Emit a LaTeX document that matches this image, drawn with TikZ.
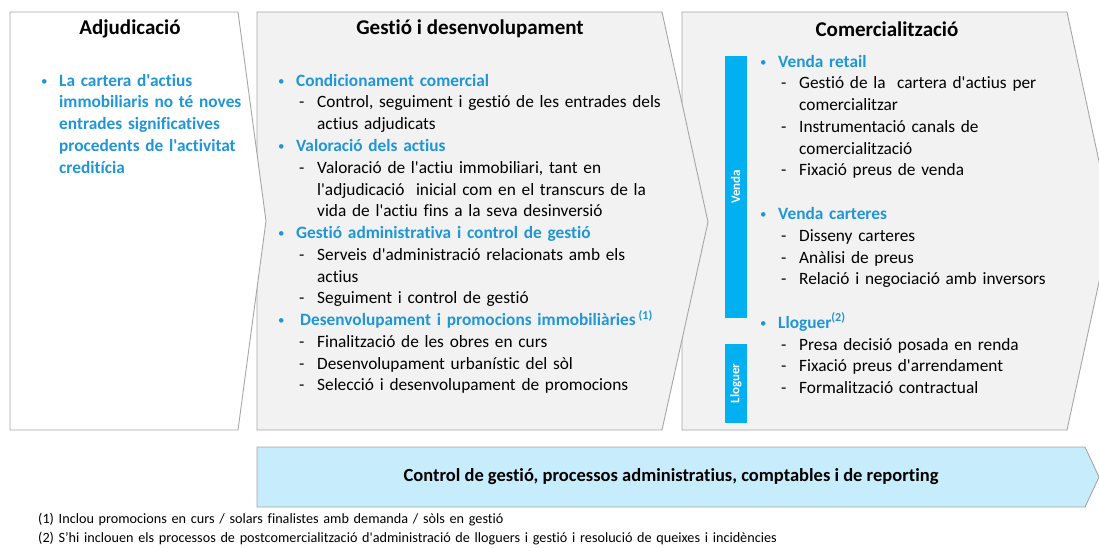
\documentclass[tikz,border=0pt]{standalone}
\usepackage{fontspec}
\setmainfont{Carlito}[Ligatures={NoCommon,TeXOff}]
\usetikzlibrary{positioning}
\definecolor{accblue}{RGB}{32,150,214}
\definecolor{barblue}{RGB}{0,176,240}
\definecolor{panelgray}{RGB}{242,242,242}
\definecolor{edgegray}{RGB}{166,166,166}
\definecolor{bannerblue}{RGB}{199,236,252}
\newcommand{\bul}[1]{\makebox[18pt][l]{\color{accblue}\raisebox{0.8pt}{\scalebox{0.75}{\textbullet}}}{\color{accblue}\bfseries #1}}
\newcommand{\bcont}[1]{\hspace*{18pt}{\color{accblue}\bfseries #1}}
\newcommand{\subi}[1]{\hspace*{21pt}\makebox[18pt][l]{-}#1}
\newcommand{\cont}[1]{\hspace*{39pt}#1}
\tikzset{
	node distance=21.75pt,
	panel/.style={draw=edgegray, line width=0.9pt},
	title/.style={inner sep=0pt, font=\fontsize{21}{24}\selectfont\bfseries},
	line/.style={inner sep=0pt, text height=12.5pt, text depth=4pt, align=left,
		font=\fontsize{17.3}{20}\selectfont},
	adjline/.style={line, text width=230pt},
	gesline/.style={line, text width=420pt},
	comline/.style={line, text width=320pt},
	bar/.style={fill=barblue, text=white, inner sep=0pt, rotate=90,
		minimum height=22pt, font=\fontsize{13}{14}\selectfont\bfseries},
	note/.style={inner sep=0pt, text width=900pt, align=left,
		font=\fontsize{14.2}{16}\selectfont}}

\begin{document}
\begin{tikzpicture}[x=1pt, y=1pt]
		\useasboundingbox (0,0) rectangle (1099,547);
		
		%panels
		\draw[panel, fill=panelgray] (682,535) -- (1067,535) -- (1112,325) -- (1067,117) -- (682,117) -- cycle;
		\draw[panel, fill=panelgray] (257,535) -- (662,535) -- (708,325) -- (662,117) -- (257,117) -- cycle;
		\draw[panel, fill=white] (10,535) -- (238,535) -- (266,326) -- (238,117) -- (10,117) -- cycle;
		\draw[panel, fill=bannerblue] (257,100) -- (1085,100) -- (1099,70) -- (1085,40) -- (257,40) -- cycle;
		
		\node[title] (adjt) at (130,518) {Adjudicació};
		\node[title] (gest) at (470,518) {Gestió i desenvolupament};
		\node[title] (comt) at (887,518) {Comercialització};
		
		%Adjudicacio
		\node[adjline, anchor=west] (a1) at (41,465) {\bul{La cartera d'actius}};
		\node[adjline, below of=a1] (a2) {\bcont{immobiliaris no té noves}};
		\node[adjline, below of=a2] (a3) {\bcont{entrades significatives}};
		\node[adjline, below of=a3] (a4) {\bcont{procedents de l'activitat}};
		\node[adjline, below of=a4] (a5) {\bcont{creditícia}};
		
		%Gestio
		\node[gesline, anchor=west] (g1) at (278,465) {\bul{Condicionament comercial}};
		\node[gesline, below of=g1] (g2) {\subi{Control, seguiment i gestió de les entrades dels}};
		\node[gesline, below of=g2] (g3) {\cont{actius adjudicats}};
		\node[gesline, below of=g3] (g4) {\bul{Valoració dels actius}};
		\node[gesline, below of=g4] (g5) {\subi{Valoració de l'actiu immobiliari, tant en}};
		\node[gesline, below of=g5] (g6) {\cont{l'adjudicació\ \ inicial com en el transcurs de la}};
		\node[gesline, below of=g6] (g7) {\cont{vida de l'actiu fins a la seva desinversió}};
		\node[gesline, below of=g7] (g8) {\bul{Gestió administrativa i control de gestió}};
		\node[gesline, below of=g8] (g9) {\subi{Serveis d'administració relacionats amb els}};
		\node[gesline, below of=g9] (g10) {\cont{actius}};
		\node[gesline, below of=g10] (g11) {\subi{Seguiment i control de gestió}};
		\node[gesline, below of=g11] (g12) {\bul{\hspace*{4pt}Desenvolupament i promocions immobiliàries\,\textsuperscript{(1)}}};
		\node[gesline, below of=g12] (g13) {\subi{Finalització de les obres en curs}};
		\node[gesline, below of=g13] (g14) {\subi{Desenvolupament urbanístic del sòl}};
		\node[gesline, below of=g14] (g15) {\subi{Selecció i desenvolupament de promocions}};
		
		%Comercialitzacio
		\node[bar, minimum width=262pt] (venda) at (735.5,360) {Venda};
		\node[bar, minimum width=79pt] (lloguer) at (736,163.5) {Lloguer};
		
		\node[comline, anchor=west] (c1) at (760,484) {\bul{Venda retail}};
		\node[comline, below of=c1] (c2) {\subi{Gestió de la\ \ cartera d'actius per}};
		\node[comline, below of=c2] (c3) {\cont{comercialitzar}};
		\node[comline, below of=c3] (c4) {\subi{Instrumentació canals de}};
		\node[comline, below of=c4] (c5) {\cont{comercialització}};
		\node[comline, below of=c5] (c6) {\subi{Fixació preus de venda}};
		\node[comline, node distance=43.5pt, below of=c6] (c7) {\bul{Venda carteres}};
		\node[comline, below of=c7] (c8) {\subi{Disseny carteres}};
		\node[comline, below of=c8] (c9) {\subi{Anàlisi de preus}};
		\node[comline, below of=c9] (c10) {\subi{Relació i negociació amb inversors}};
		\node[comline, node distance=43.5pt, below of=c10] (c11) {\bul{Lloguer\textsuperscript{(2)}}};
		\node[comline, below of=c11] (c12) {\subi{Presa decisió posada en renda}};
		\node[comline, below of=c12] (c13) {\subi{Fixació preus d'arrendament}};
		\node[comline, below of=c13] (c14) {\subi{Formalització contractual}};
		
		%banner and notes
		\node[font=\fontsize{18.5}{21}\selectfont\bfseries] (ctrl) at (671,70) {Control de gestió, processos administratius, comptables i de reporting};
		\node[note, anchor=west] (n1) at (38,27) {(1) Inclou promocions en curs / solars finalistes amb demanda / sòls en gestió};
		\node[note, node distance=19pt, below of=n1] (n2) {(2) S’hi inclouen els processos de postcomercialització d'administració de lloguers i gestió i resolució de queixes i incidències};
	\end{tikzpicture}
\end{document}
